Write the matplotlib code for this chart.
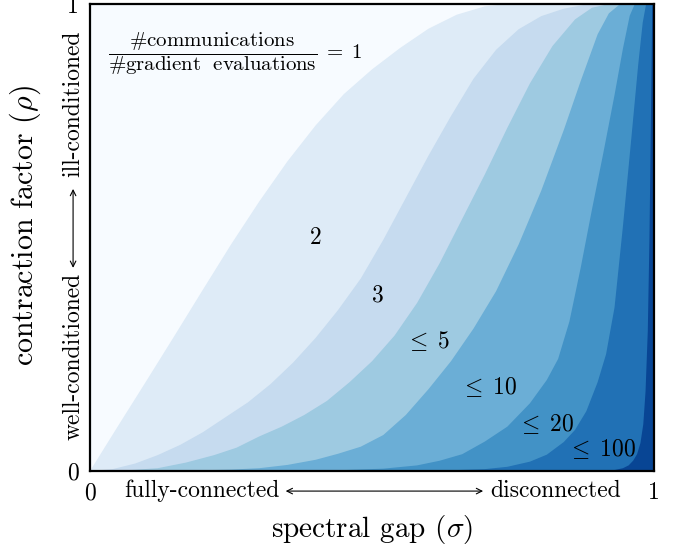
import matplotlib
matplotlib.use("Agg")
import matplotlib.pyplot as plt

plt.rcParams['font.family'] = 'serif'
plt.rcParams['font.serif'] = ['cmr10']
plt.rcParams['mathtext.fontset'] = 'cm'
plt.rcParams['axes.formatter.use_mathtext'] = True
plt.rcParams['axes.unicode_minus'] = False

# region labels (number of communications per gradient evaluation)
region_labels = ['2', '3', r'$\leq\;5$', r'$\leq\;10$', r'$\leq\;20$', r'$\leq\;100$']
colors = ['#f7fbff', '#deebf7', '#c6dbef', '#9ecae1', '#6baed6',
          '#4292c6', '#2171b5', '#084594']

# boundary curves: spectral gap (sigma) vs contraction factor (rho)
b1_s = [0, 0.05, 0.1, 0.15, 0.2, 0.25, 0.3, 0.35, 0.4, 0.45, 0.5, 0.55, 0.6, 0.65, 0.7, 0.74, 0.78]
b1_r = [0, 0.097, 0.193, 0.29, 0.388, 0.485, 0.577, 0.663, 0.74, 0.807, 0.86, 0.906, 0.947,
        0.977, 0.995, 1.0, 1.0]

b2_s = [0, 0.04, 0.08, 0.12, 0.16, 0.2, 0.24, 0.28, 0.32, 0.36, 0.4, 0.44, 0.48, 0.52, 0.56,
        0.6, 0.64, 0.68, 0.72, 0.76, 0.8, 0.84, 0.88, 0.91]
b2_r = [0, 0.004, 0.016, 0.034, 0.056, 0.083, 0.115, 0.147, 0.186, 0.232, 0.285, 0.345, 0.412,
        0.495, 0.585, 0.675, 0.76, 0.84, 0.902, 0.946, 0.974, 0.99, 0.999, 1.0]

b3_s = [0, 0.06, 0.12, 0.17, 0.22, 0.26, 0.3, 0.34, 0.38, 0.42, 0.46, 0.5, 0.54, 0.58, 0.62,
        0.66, 0.7, 0.74, 0.78, 0.82, 0.86, 0.89, 0.92]
b3_r = [0, 0.001, 0.006, 0.018, 0.034, 0.05, 0.074, 0.095, 0.12, 0.15, 0.19, 0.235, 0.29, 0.36,
        0.445, 0.54, 0.635, 0.735, 0.83, 0.91, 0.967, 0.992, 1.0]

b4_s = [0, 0.15, 0.25, 0.3, 0.35, 0.4, 0.44, 0.48, 0.52, 0.56, 0.6, 0.64, 0.68, 0.72, 0.76,
        0.8, 0.84, 0.87, 0.9, 0.92, 0.94]
b4_r = [0, 0.0003, 0.003, 0.006, 0.013, 0.024, 0.037, 0.052, 0.077, 0.12, 0.175, 0.235, 0.305,
        0.385, 0.485, 0.6, 0.73, 0.835, 0.935, 0.98, 1.0]

b5_s = [0, 0.35, 0.45, 0.52, 0.58, 0.62, 0.66, 0.7, 0.74, 0.78, 0.81, 0.83, 0.85, 0.87, 0.89,
        0.91, 0.93, 0.945, 0.957, 0.966]
b5_r = [0, 0.0003, 0.002, 0.005, 0.012, 0.022, 0.036, 0.063, 0.095, 0.145, 0.195, 0.24, 0.32,
        0.435, 0.56, 0.68, 0.805, 0.905, 0.975, 1.0]

b6_s = [0, 0.55, 0.65, 0.7, 0.74, 0.78, 0.81, 0.84, 0.86, 0.88, 0.9, 0.915, 0.93, 0.945, 0.96,
        0.972, 0.98, 0.986]
b6_r = [0, 0.0003, 0.002, 0.004, 0.009, 0.02, 0.035, 0.062, 0.088, 0.128, 0.19, 0.25, 0.35,
        0.525, 0.715, 0.87, 0.96, 1.0]

b7_s = [0.88, 0.91, 0.93, 0.945, 0.955, 0.963, 0.97, 0.976, 0.981, 0.985, 0.989, 0.992, 0.995,
        0.997]
b7_r = [0, 0.0005, 0.002, 0.006, 0.012, 0.022, 0.036, 0.06, 0.1, 0.17, 0.3, 0.5, 0.8, 1.0]

boundaries = [(b1_s, b1_r), (b2_s, b2_r), (b3_s, b3_r), (b4_s, b4_r),
              (b5_s, b5_r), (b6_s, b6_r), (b7_s, b7_r)]

fig = plt.figure(figsize=(6.81, 5.51), dpi=100)
ax = fig.add_axes([90 / 681, 1 - 471 / 551, 564 / 681, 467 / 551])
ax.set_facecolor(colors[0])

for (s, r), c in zip(boundaries, colors[1:]):
    xs = list(s) + [1.0, 1.0]
    ys = list(r) + [1.0, 0.0]
    ax.fill(xs, ys, color=c, lw=0, zorder=1)

ax.set_xlim(0, 1)
ax.set_ylim(0, 1)
ax.set_xticks([0, 1])
ax.set_yticks([0, 1])
ax.set_xticklabels(['0', '1'])
ax.set_yticklabels(['0', '1'])
ax.tick_params(length=0, labelsize=17, pad=8)
for sp in ax.spines.values():
    sp.set_linewidth(1.6)
    sp.set_zorder(5)

ax.set_xlabel(r'spectral gap ($\sigma$)', fontsize=21, va='center')
ax.xaxis.set_label_coords(0.5, -0.126)
ax.set_ylabel(r'contraction factor ($\rho$)', fontsize=21.5, va='center')
ax.yaxis.set_label_coords(-0.115, 0.525)

# fraction annotation
ax.text(0.032, 0.893,
        r'$\dfrac{\#\mathrm{communications}}{\#\mathrm{gradient\ \ evaluations}}\;=\;1$',
        fontsize=15, ha='left', va='center', zorder=6)

label_pos = [(0.401, 0.499), (0.511, 0.375), (0.599, 0.278), (0.706, 0.180),
             (0.807, 0.101), (0.906, 0.047)]
for lab, (x, y) in zip(region_labels, label_pos):
    ax.text(x, y, lab, fontsize=17, ha='center', va='center', zorder=6)

# axis direction annotations
ax.text(0.060, -0.043, 'fully-connected', fontsize=17, ha='left', va='center',
        transform=ax.transData, clip_on=False)
ax.text(0.941, -0.043, 'disconnected', fontsize=17, ha='right', va='center',
        transform=ax.transData, clip_on=False)
ax.annotate('', xy=(0.697, -0.043), xytext=(0.347, -0.043),
            arrowprops=dict(arrowstyle='<->', lw=0.8, color='black',
                            shrinkA=0, shrinkB=0),
            annotation_clip=False)

ax.text(-0.030, 0.066, 'well-conditioned', fontsize=17, ha='center', va='bottom',
        rotation=90, clip_on=False)
ax.text(-0.030, 0.944, 'ill-conditioned', fontsize=17, ha='center', va='top',
        rotation=90, clip_on=False)
ax.annotate('', xy=(-0.030, 0.604), xytext=(-0.030, 0.435),
            arrowprops=dict(arrowstyle='<->', lw=0.8, color='black',
                            shrinkA=0, shrinkB=0),
            annotation_clip=False)

fig.savefig('out.png', dpi=100)
